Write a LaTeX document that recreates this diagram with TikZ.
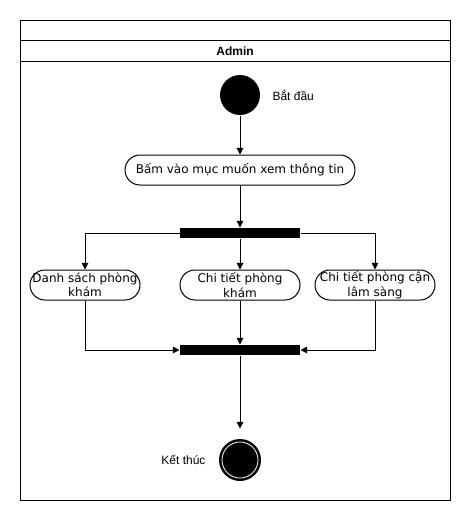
\documentclass[tikz,border=0pt]{standalone}
\usepackage{fontspec}
\setmainfont{Liberation Sans}
\newfontfamily\actfont{DejaVu Sans}
\usetikzlibrary{arrows.meta,positioning}

\begin{document}
\begin{tikzpicture}[
  x=0.75pt,y=-0.75pt,
  font=\fontsize{9}{10.8}\selectfont,
  >={Triangle[length=5pt,width=5pt]},
  line width=0.75pt,
  act/.style={rectangle,rounded corners=11.25pt,draw=black,fill=white,
    minimum width=90pt,minimum height=22.5pt,align=center,inner sep=1pt,
    font=\actfont\fontsize{9}{10.8}\selectfont},
  bar/.style={rectangle,fill=black,minimum width=90pt,minimum height=7.5pt,inner sep=0pt},
  initial/.style={circle,fill=black,minimum size=30pt,inner sep=0pt},
  final/.style={circle,fill=black,minimum size=31.5pt,inner sep=0pt},
  arr/.style={->},
  lbl/.style={inner sep=0pt}
]
\useasboundingbox (0,0) rectangle (471,521);

% Swimlane
\draw (20,20) rectangle (450,500);
\draw (20,40) -- (450,40);
\draw (20,61) -- (450,61);
\node[font=\bfseries\fontsize{9}{10.8}\selectfont] (lane) at (235,51) {Admin};

% Start and first action
\node[initial] (start) at (240,95) {};
\node[lbl,anchor=west] (startlbl) at (272,95) {Bắt đầu};
\node[act,minimum width=172.5pt] (view) at (240,170) {Bấm vào mục muốn xem thông tin};
\node[bar] (fork) at (240,233) {};

% Parallel actions
\node[act,minimum width=82.5pt] (list) at (85,285) {Danh sách phòng\\khám};
\node[act] (detail) at (240,285) {Chi tiết phòng\\khám};
\node[act] (lab) at (375,285) {Chi tiết phòng cận\\lâm sàng};
\node[bar] (join) at (240,350) {};

% End
\node[final] (stop) at (240,460) {};
\draw[white,line width=0.6pt] (stop.center) circle[radius=13.5pt];
\node[lbl,anchor=east] (stoplbl) at (206,460) {Kết thúc};

% Arrows
\draw[arr] (start) -- (view);
\draw[arr] (view) -- (fork);
\draw[arr] (fork.west) -| (list.north);
\draw[arr] (fork) -- (detail);
\draw[arr] (fork.east) -| (lab.north);
\draw[arr] (list.south) |- (join.west);
\draw[arr] (detail) -- (join);
\draw[arr] (lab.south) |- (join.east);
\draw[arr,shorten >=7.5pt] (join) -- (stop);

\end{tikzpicture}
\end{document}
